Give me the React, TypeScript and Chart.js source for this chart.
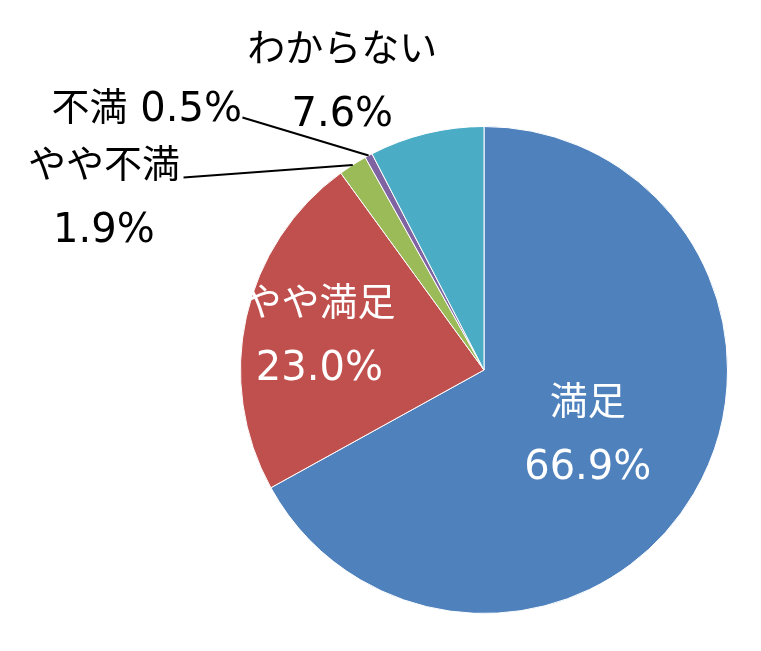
import React, { useEffect, useRef } from "react";
import { Chart, registerables } from "chart.js";

Chart.register(...registerables);

const categories = ["満足", "やや満足", "やや不満", "不満", "わからない"];
const values = [66.9, 23.0, 1.9, 0.5, 7.6];
const valueLabels = ["66.9%", "23.0%", "1.9%", "0.5%", "7.6%"];
const sliceColors = ["#4F81BD", "#C0504D", "#9BBB59", "#8064A2", "#4BACC6"];

// label layout, relative to pie centre in units of radius
type Layout = {
  dx: number;
  dy: number;
  color: string;
  oneLine?: boolean;
  leader?: { dx: number; dy: number };
};
const labelLayout: Layout[] = [
  { dx: 0.426, dy: 0.27, color: "#ffffff" },
  { dx: -0.676, dy: -0.139, color: "#ffffff" },
  { dx: -1.561, dy: -0.705, color: "#000000", leader: { dx: -1.234, dy: -0.791 } },
  { dx: -1.385, dy: -1.074, color: "#000000", oneLine: true, leader: { dx: -0.992, dy: -1.037 } },
  { dx: -0.582, dy: -1.18, color: "#000000" },
];

const CJK_FONT = "38px 'Noto Sans CJK JP', sans-serif";
const NUM_FONT = "40px 'DejaVu Sans', sans-serif";
const CJK_SHIFT = -3;
const LINE_GAP = 66;

const labelPlugin = {
  id: "pieLabels",
  afterDatasetsDraw(chart: any) {
    const ctx = chart.ctx;
    const meta = chart.getDatasetMeta(0);
    ctx.save();
    ctx.textBaseline = "middle";
    meta.data.forEach((arc: any, i: number) => {
      const lay = labelLayout[i];
      const cx = arc.x;
      const cy = arc.y;
      const r = arc.outerRadius;
      if (lay.leader) {
        const mid = (arc.startAngle + arc.endAngle) / 2;
        ctx.beginPath();
        ctx.strokeStyle = "#000";
        ctx.lineWidth = 2;
        ctx.moveTo(cx + lay.leader.dx * r, cy + lay.leader.dy * r);
        ctx.lineTo(cx + Math.cos(mid) * r, cy + Math.sin(mid) * r);
        ctx.stroke();
      }
      const x = cx + lay.dx * r;
      const y = cy + lay.dy * r;
      ctx.fillStyle = lay.color;
      if (lay.oneLine) {
        ctx.font = CJK_FONT;
        const w1 = ctx.measureText(categories[i]).width;
        ctx.font = NUM_FONT;
        const txt2 = " " + valueLabels[i];
        const w2 = ctx.measureText(txt2).width;
        const left = x - (w1 + w2) / 2;
        ctx.textAlign = "left";
        ctx.font = CJK_FONT;
        ctx.fillText(categories[i], left, y + CJK_SHIFT);
        ctx.font = NUM_FONT;
        ctx.fillText(txt2, left + w1, y + 2);
      } else {
        ctx.textAlign = "center";
        ctx.font = CJK_FONT;
        ctx.fillText(categories[i], x, y - LINE_GAP / 2 + CJK_SHIFT);
        ctx.font = NUM_FONT;
        ctx.fillText(valueLabels[i], x, y + LINE_GAP / 2);
      }
    });
    ctx.restore();
  },
};

export default function App() {
  const ref = useRef<HTMLCanvasElement | null>(null);
  useEffect(() => {
    if (!ref.current) return;
    const chart = new Chart(ref.current, {
      type: "pie",
      data: {
        labels: categories,
        datasets: [
          {
            data: values,
            backgroundColor: sliceColors,
            borderColor: "#ffffff",
            borderWidth: 1,
          },
        ],
      },
      options: {
        responsive: false,
        animation: false,
        devicePixelRatio: 1,
        layout: { padding: { left: 240, right: 33, top: 126, bottom: 37 } },
        plugins: {
          legend: { display: false },
          tooltip: { enabled: false },
        },
      },
      plugins: [labelPlugin],
    });
    return () => chart.destroy();
  }, []);
  return (
    <div style={{ position: "fixed", left: 0, top: 0, width: 761, height: 651, background: "#fff" }}>
      <canvas ref={ref} width={761} height={651} />
    </div>
  );
}
